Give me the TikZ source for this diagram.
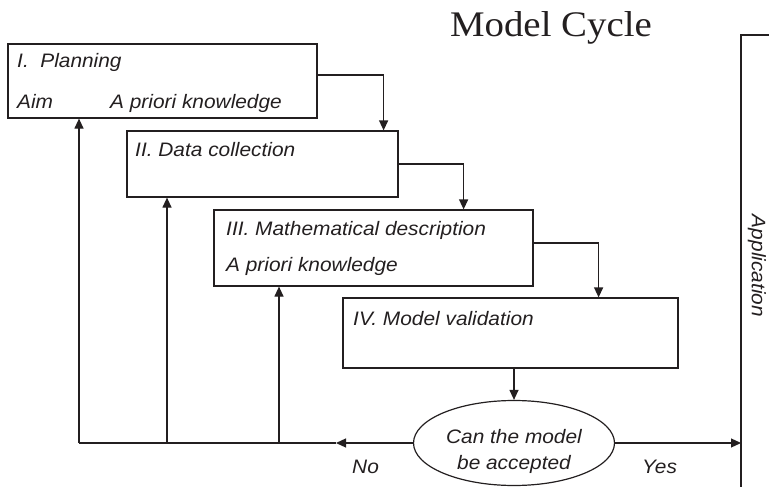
\documentclass[tikz,border=0pt]{standalone}
\usepackage{fontspec}
\usetikzlibrary{arrows.meta,shapes.geometric}
\newfontfamily\lblfont{Liberation Sans}[FakeStretch=1.07]
\newfontfamily\ttlfont{Liberation Serif}[FakeStretch=1.08]
\definecolor{ink}{HTML}{231F20}
\tikzset{
  box/.style={draw=ink, line width=1.2pt, rectangle, inner sep=0pt},
  lbl/.style={anchor=base west, inner sep=0pt, text=ink, font=\lblfont\itshape\fontsize{19.5}{22}\selectfont},
  ln/.style={draw=ink, line width=1.2pt},
  arr/.style={ln, -{Triangle[length=10pt,width=9pt]}},
}
\begin{document}
\begin{tikzpicture}[x=1pt,y=-1pt]
\useasboundingbox (0,0) rectangle (769,487);
% title
\node[anchor=base, inner sep=0pt, text=ink, font=\ttlfont\fontsize{36}{40}\selectfont] (title) at (551,37) {Model Cycle};
% boxes
\node[box, minimum width=309pt, minimum height=74pt] (b1) at (162.5,81) {};
\node[box, minimum width=271pt, minimum height=66pt] (b2) at (262.5,164) {};
\node[box, minimum width=319pt, minimum height=76pt] (b3) at (373.5,248) {};
\node[box, minimum width=335pt, minimum height=70pt] (b4) at (510.5,333) {};
\node[draw=ink, line width=1.2pt, ellipse, minimum width=201pt, minimum height=85pt, inner sep=0pt] (q) at (514,443) {};
% texts
\node[lbl] (t1) at (17,67) {I.\ \ Planning};
\node[lbl] (t1a) at (17,108) {Aim};
\node[lbl] (t1b) at (110,108) {A priori knowledge};
\node[lbl] (t2) at (135,157) {II. Data collection};
\node[lbl] (t3) at (226,235) {III. Mathematical description};
\node[lbl] (t3a) at (226,271) {A priori knowledge};
\node[lbl] (t4) at (353,325) {IV. Model validation};
\node[lbl, anchor=base] (tq1) at (514,443) {Can the model};
\node[lbl, anchor=base] (tq2) at (514,469) {be accepted};
\node[lbl] (no) at (352,473) {No};
\node[lbl] (yes) at (642,473) {Yes};
\node[lbl, anchor=center, rotate=-90] (app) at (757,266) {Application};
% coordinates
\coordinate (n1) at (79,443);
\coordinate (n2) at (167,443);
\coordinate (n3) at (279,443);
\coordinate (nt) at (336,443);
\coordinate (apptop) at (741,35);
\coordinate (appbot) at (741,487);
\coordinate (append) at (769,35);
% connectors
\draw[arr] ([yshift=6pt]b1.east) -| ([xshift=-15pt]b2.north east);
\draw[arr] (b2.east) -| ([xshift=-70pt]b3.north east);
\draw[arr] ([yshift=5pt]b3.east) -| ([xshift=-80pt]b4.north east);
\draw[arr] (q.north |- b4.south) -- (q.north);
\draw[arr] (q.west) -- (nt);
\draw[ln] (nt) -- (n1);
\draw[arr] (n1) -- (n1 |- b1.south);
\draw[arr] (n2) -- (n2 |- b2.south);
\draw[arr] (n3) -- (n3 |- b3.south);
\draw[arr] (q.east) -- (q.east -| apptop);
\draw[ln] (appbot) -- (apptop) -- (append);
\end{tikzpicture}
\end{document}
